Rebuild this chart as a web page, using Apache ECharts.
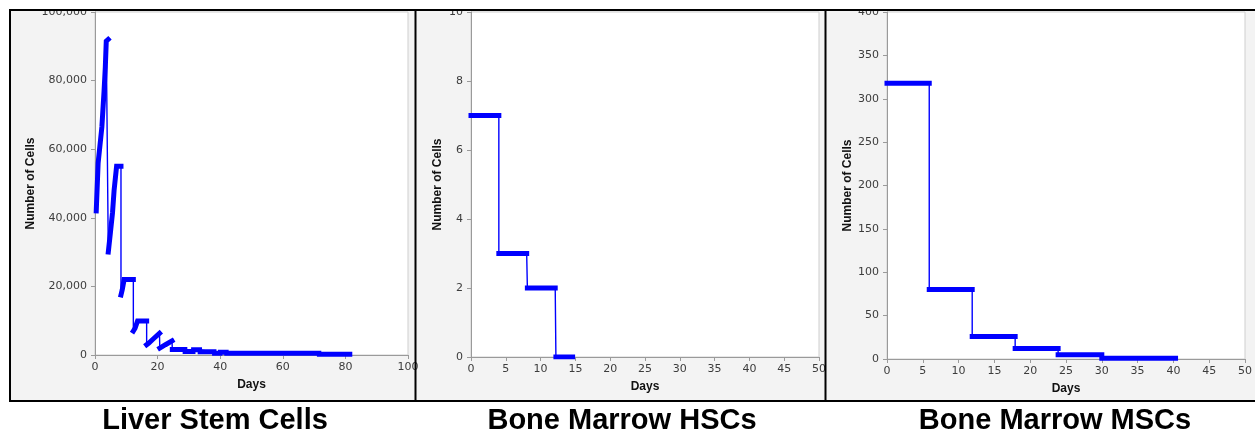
<!DOCTYPE html>
<html>
<head>
<meta charset="utf-8">
<script src="https://cdn.jsdelivr.net/npm/echarts@6/dist/echarts.min.js"></script>
<style>
html,body{margin:0;padding:0;background:#fff;}
#c{width:1255px;height:433px;}
</style>
</head>
<body>
<div id="c"></div>
<script>
// ---- data (days, number of cells) ----
const panelTitles = ['Liver Stem Cells', 'Bone Marrow HSCs', 'Bone Marrow MSCs'];

// Liver stem cells: growth phases (each drawn thick), joined by thin drops
const liverSegments = [
  [[0.4,42000],[1.0,56000],[2.2,66500],[2.9,77000],[3.3,84000],[3.6,91500],[4.2,92000]],
  [[4.25,30000],[4.5,30500],[4.9,35500],[5.6,41500],[6.1,48000],[6.9,55000],[8.3,55000]],
  [[8.3,17500],[8.7,19000],[9.3,22000],[12.25,22000]],
  [[12.25,7000],[12.8,7800],[13.6,9900],[16.5,9900]],
  [[16.5,3000],[17.2,3500],[18.5,4600],[20.6,6300]],
  [[20.7,2000],[22.5,3000],[24.6,4100]],
  [[24.7,1600],[28.7,1600]],
  [[28.8,1050],[31.3,1050]],
  [[31.5,1500],[33.4,1500]],
  [[33.6,950],[38.0,950]],
  [[38.2,500],[39.9,500]],
  [[40.1,800],[41.9,800]],
  [[42.1,500],[71.5,500]],
  [[71.7,250],[81.4,250]]
];

// Bone marrow HSCs
const hscSegments = [
  [[0,7],[4.0,7]],
  [[4.0,3],[8.0,3]],
  [[8.1,2],[12.1,2]],
  [[12.2,0],[14.6,0]]
];

// Bone marrow MSCs
const mscSegments = [
  [[0,318],[5.9,318]],
  [[5.9,80],[11.9,80]],
  [[11.9,26],[17.9,26]],
  [[17.9,12],[23.9,12]],
  [[23.9,5],[30.0,5]],
  [[30.0,1],[40.3,1]]
];

// axis ranges [min, max, interval]
const xRanges = [[0,100,20],[0,50,5],[0,50,5]];
const yRanges = [[0,100000,20000],[0,10,2],[0,400,50]];
const xName = 'Days';
const yName = 'Number of Cells';

// ---- layout ----
const grids = [
  {left:95, top:12, width:313, height:343},
  {left:471, top:12, width:348, height:345},
  {left:887, top:12, width:360, height:347}
];
const yNameGaps = [58, 27, 33];
const titleX = [215, 622, 1055];
const BLUE = '#0000ff';
const LABEL = {fontFamily:'DejaVu Sans', fontSize:11, color:'#3c3c3c'};
const NAME = {fontFamily:'Liberation Sans', fontSize:12, fontWeight:'bold', color:'#111'};

function fmt(v){ return v.toLocaleString('en-US'); }

const xAxes = xRanges.map((r,i)=>({
  type:'value', gridIndex:i, min:r[0], max:r[1], interval:r[2],
  name:xName, nameLocation:'middle', nameGap:24,
  nameTextStyle:Object.assign({}, NAME),
  axisLine:{show:true, onZero:false, lineStyle:{color:'#9a9a9a', width:1}},
  axisTick:{show:true, inside:false, length:4, lineStyle:{color:'#9a9a9a'}},
  axisLabel:Object.assign({margin:7, showMinLabel:true, showMaxLabel:true, hideOverlap:false}, LABEL),
  splitLine:{show:false}
}));
const yAxes = yRanges.map((r,i)=>({
  type:'value', gridIndex:i, min:r[0], max:r[1], interval:r[2],
  name:yName, nameLocation:'middle', nameGap:yNameGaps[i], nameRotate:90,
  nameTextStyle:Object.assign({}, NAME),
  axisLine:{show:true, onZero:false, lineStyle:{color:'#9a9a9a', width:1}},
  axisTick:{show:true, inside:false, length:4, lineStyle:{color:'#9a9a9a'}},
  axisLabel:Object.assign({margin:8, formatter:fmt, showMinLabel:true, showMaxLabel:true, hideOverlap:false}, LABEL),
  splitLine:{show:false}
}));

function panelSeries(segs, idx){
  const out = [{
    type:'line', xAxisIndex:idx, yAxisIndex:idx, data:segs.flat(),
    symbol:'none', lineStyle:{color:BLUE, width:1.4}, z:2, animation:false, silent:true
  }];
  segs.forEach(s=>out.push({
    type:'line', xAxisIndex:idx, yAxisIndex:idx, data:s,
    symbol:'none', lineStyle:{color:BLUE, width:5, cap:'square', join:'miter'},
    z:3, animation:false, silent:true
  }));
  return out;
}

const series = [].concat(
  panelSeries(liverSegments,0),
  panelSeries(hscSegments,1),
  panelSeries(mscSegments,2)
);

const graphic = [
  {type:'rect', z:-10, shape:{x:9,y:9,width:1260,height:392}, style:{fill:'#f3f3f3'}},
  {type:'rect', z:100, shape:{x:0,y:0,width:1255,height:9}, style:{fill:'#fff'}},
  {type:'rect', z:101, shape:{x:10,y:10,width:1260,height:391}, style:{fill:null, stroke:'#000', lineWidth:2}},
  {type:'line', z:101, shape:{x1:415.5,y1:10,x2:415.5,y2:401}, style:{stroke:'#000', lineWidth:2}},
  {type:'line', z:101, shape:{x1:825.5,y1:10,x2:825.5,y2:401}, style:{stroke:'#000', lineWidth:2}}
].concat(panelTitles.map((t,i)=>({
  type:'text', z:101, x:titleX[i], y:421,
  style:{text:t, align:'center', verticalAlign:'middle', font:'bold 29px "Liberation Sans", Arial, sans-serif', fill:'#000'}
})));

const chart = echarts.init(document.getElementById('c'), null, {renderer:'canvas'});
chart.setOption({
  animation:false,
  backgroundColor:'#fff',
  grid: grids.map(g=>Object.assign({show:true, backgroundColor:'#fff', borderColor:'#cfcfcf', borderWidth:1, containLabel:false}, g)),
  xAxis:xAxes,
  yAxis:yAxes,
  series:series,
  graphic:graphic
});
</script>
</body>
</html>
